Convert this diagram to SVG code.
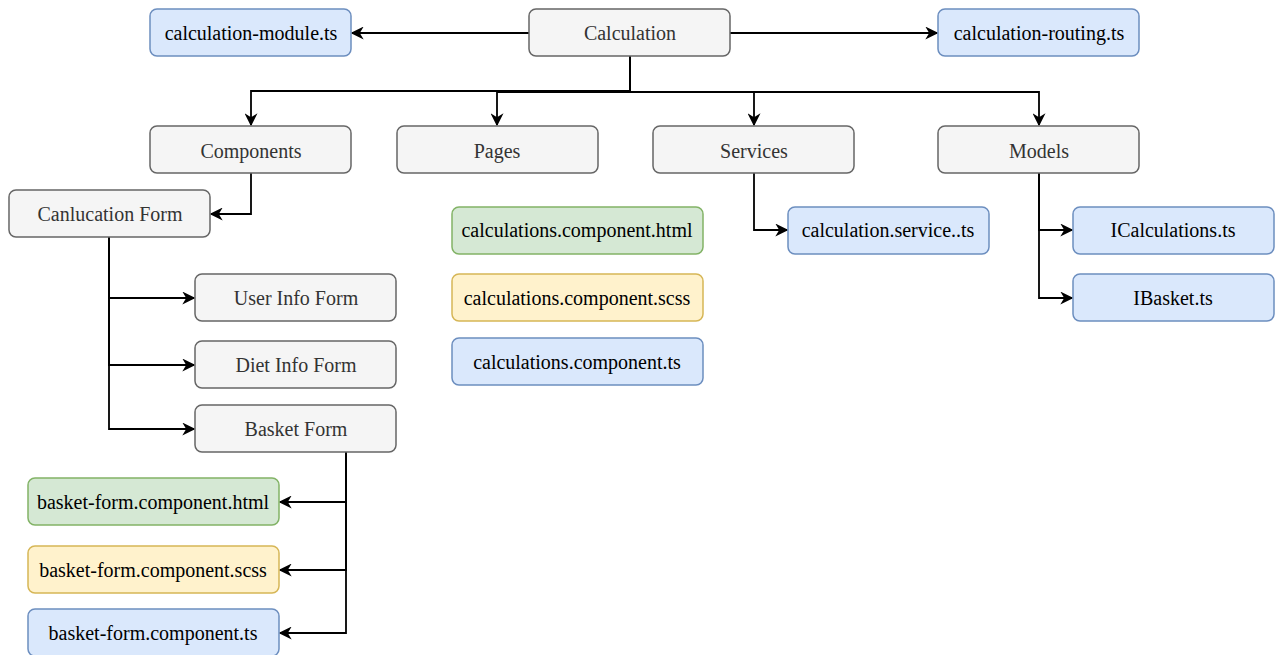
<svg xmlns="http://www.w3.org/2000/svg" width="1278" height="655" viewBox="0 0 1278 655">
<style>
.n rect{stroke-width:1.5}
.g rect{fill:#f5f5f5;stroke:#666666}
.b rect{fill:#dae8fc;stroke:#6c8ebf}
.gr rect{fill:#d5e8d4;stroke:#82b366}
.y rect{fill:#fff2cc;stroke:#d6b656}
text{font-family:'Liberation Serif','Times New Roman',serif;font-size:20px;text-anchor:middle;dominant-baseline:central;fill:#000}
.g text{fill:#333333}
.e path{fill:none;stroke:#000;stroke-width:1.8;marker-end:url(#a)}
</style>
<defs>
<marker id="a" viewBox="0 0 10 10" refX="9" refY="5" markerWidth="13" markerHeight="13" markerUnits="userSpaceOnUse" orient="auto">
<path d="M0,0 L10,5 L0,10 L3,5 Z" fill="#000"/>
</marker>
</defs>
<g class="e" id="connectors">
<path d="M529,33 H352"/>
<path d="M730,33 H937"/>
<path d="M630,56 V91 H251 V125"/>
<path d="M630,56 V92 H497 V125"/>
<path d="M630,56 V92 H754 V125"/>
<path d="M630,56 V92 H1039 V125"/>
<path d="M251,173 V214 H211"/>
<path d="M109,237 V298 H194"/>
<path d="M109,237 V365 H194"/>
<path d="M109,237 V429 H194"/>
<path d="M346,452 V502 H280"/>
<path d="M346,452 V570 H280"/>
<path d="M346,452 V633 H280"/>
<path d="M754,173 V230 H787"/>
<path d="M1039,173 V230 H1072"/>
<path d="M1039,173 V298 H1072"/>
</g>
<g id="calculation" class="n g"><rect x="529" y="9" width="201" height="47" rx="7"/><text x="630" y="33">Calculation</text></g>
<g id="calc-module" class="n b"><rect x="150" y="9" width="201" height="47" rx="7"/><text x="251" y="33">calculation-module.ts</text></g>
<g id="calc-routing" class="n b"><rect x="938" y="9" width="201" height="47" rx="7"/><text x="1039" y="33">calculation-routing.ts</text></g>
<g id="components" class="n g"><rect x="150" y="126" width="201" height="47" rx="7"/><text x="251" y="151">Components</text></g>
<g id="pages" class="n g"><rect x="397" y="126" width="201" height="47" rx="7"/><text x="497" y="151">Pages</text></g>
<g id="services" class="n g"><rect x="653" y="126" width="201" height="47" rx="7"/><text x="754" y="151">Services</text></g>
<g id="models" class="n g"><rect x="938" y="126" width="201" height="47" rx="7"/><text x="1039" y="151">Models</text></g>
<g id="canlucation-form" class="n g"><rect x="9" y="190" width="201" height="47" rx="7"/><text x="110" y="214">Canlucation Form</text></g>
<g id="user-info-form" class="n g"><rect x="195" y="274" width="201" height="47" rx="7"/><text x="296" y="298">User Info Form</text></g>
<g id="diet-info-form" class="n g"><rect x="195" y="341" width="201" height="47" rx="7"/><text x="296" y="365">Diet Info Form</text></g>
<g id="basket-form" class="n g"><rect x="195" y="405" width="201" height="47" rx="7"/><text x="296" y="429">Basket Form</text></g>
<g id="bf-html" class="n gr"><rect x="28" y="478" width="251" height="47" rx="7"/><text x="153" y="502">basket-form.component.html</text></g>
<g id="bf-scss" class="n y"><rect x="28" y="546" width="251" height="47" rx="7"/><text x="153" y="570">basket-form.component.scss</text></g>
<g id="bf-ts" class="n b"><rect x="28" y="609" width="251" height="47" rx="7"/><text x="153" y="633">basket-form.component.ts</text></g>
<g id="cc-html" class="n gr"><rect x="452" y="207" width="251" height="47" rx="7"/><text x="577" y="230">calculations.component.html</text></g>
<g id="cc-scss" class="n y"><rect x="452" y="274" width="251" height="47" rx="7"/><text x="577" y="298">calculations.component.scss</text></g>
<g id="cc-ts" class="n b"><rect x="452" y="338" width="251" height="47" rx="7"/><text x="577" y="362">calculations.component.ts</text></g>
<g id="calc-service" class="n b"><rect x="788" y="207" width="201" height="47" rx="7"/><text x="888" y="230">calculation.service..ts</text></g>
<g id="icalculations" class="n b"><rect x="1073" y="207" width="201" height="47" rx="7"/><text x="1173" y="230">ICalculations.ts</text></g>
<g id="ibasket" class="n b"><rect x="1073" y="274" width="201" height="47" rx="7"/><text x="1173" y="298">IBasket.ts</text></g>
</svg>
